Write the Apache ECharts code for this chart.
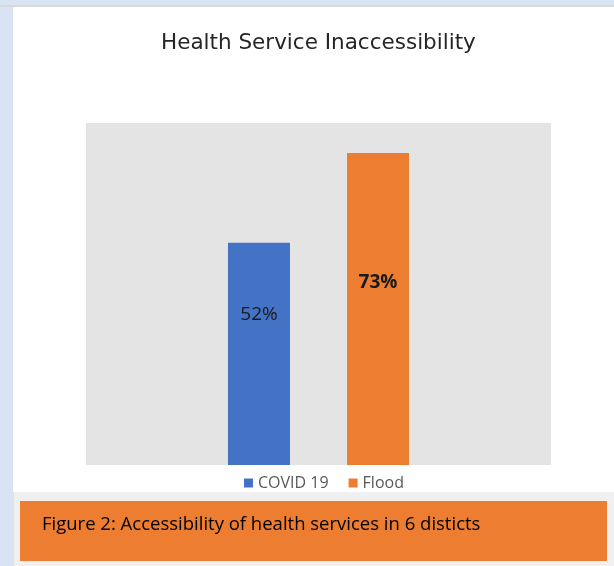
<!DOCTYPE html>
<html>
<head>
<meta charset="utf-8">
<script src="https://cdn.jsdelivr.net/npm/echarts@6/dist/echarts.min.js"></script>
<style>
  html, body { margin: 0; padding: 0; background: #dae3f3; }
  #main { width: 614px; height: 566px; }
</style>
</head>
<body>
<div id="main"></div>
<script>
// data
var categories = ['Health Service Inaccessibility'];
var seriesNames = ['COVID 19', 'Flood'];
var covidValues = [52];
var floodValues = [73];
var valueLabels = ['52%', '73%'];

var chart = echarts.init(document.getElementById('main'), null, { renderer: 'canvas' });

var option = {
  backgroundColor: '#dae3f3',
  animation: false,
  title: {
    text: 'Health Service Inaccessibility',
    left: 156,
    top: 27,
    textStyle: {
      fontFamily: 'DejaVu Sans',
      fontSize: 21.5,
      fontWeight: 'normal',
      color: '#262626'
    }
  },
  color: ['#4472c4', '#ed7d31'],
  legend: {
    data: seriesNames,
    left: 239,
    top: 470,
    itemWidth: 9,
    itemHeight: 9,
    itemGap: 20,
    icon: 'rect',
    textStyle: {
      fontFamily: 'Open Sans',
      fontSize: 16,
      color: '#595959'
    }
  },
  grid: {
    left: 86,
    top: 123,
    width: 465,
    height: 342,
    show: true,
    backgroundColor: '#e4e4e4',
    borderWidth: 0
  },
  xAxis: {
    type: 'category',
    data: categories,
    show: false
  },
  yAxis: {
    type: 'value',
    min: 0,
    max: 80,
    show: false
  },
  // frame, caption box (decoration, not data)
  graphic: [
    { type: 'rect', z: -10, shape: { x: 0, y: 5, width: 614, height: 2 }, style: { fill: '#d9d9d9' } },
    { type: 'rect', z: -10, shape: { x: 13, y: 7, width: 601, height: 485 }, style: { fill: '#ffffff' } },
    { type: 'rect', z: -10, shape: { x: 14, y: 492, width: 600, height: 74 }, style: { fill: '#f0f0f0' } },
    { type: 'rect', z: -9, shape: { x: 20, y: 501, width: 587, height: 60 }, style: { fill: '#ed7d31' } },
    {
      type: 'text', z: 10, left: 42, top: 515,
      style: {
        text: 'Figure 2: Accessibility of health services in 6 disticts',
        fontFamily: 'Open Sans',
        fontSize: 18.5,
        fill: '#000000'
      }
    }
  ],
  series: [
    {
      name: seriesNames[0],
      type: 'bar',
      barWidth: 62,
      barGap: '92%',
      data: covidValues.map(function (v) {
        return {
          value: v,
          label: {
            show: true,
            position: ['50%', 72],
            align: 'center',
            verticalAlign: 'middle',
            formatter: valueLabels[0],
            fontFamily: 'Open Sans',
            fontSize: 19,
            color: '#1a1a1a'
          }
        };
      })
    },
    {
      name: seriesNames[1],
      type: 'bar',
      barWidth: 62,
      data: floodValues.map(function (v) {
        return {
          value: v,
          label: {
            show: true,
            position: ['50%', 130],
            align: 'center',
            verticalAlign: 'middle',
            formatter: valueLabels[1],
            fontFamily: 'Open Sans',
            fontSize: 19,
            fontWeight: 'bold',
            color: '#1a1a1a'
          }
        };
      })
    }
  ]
};

chart.setOption(option);
</script>
</body>
</html>
